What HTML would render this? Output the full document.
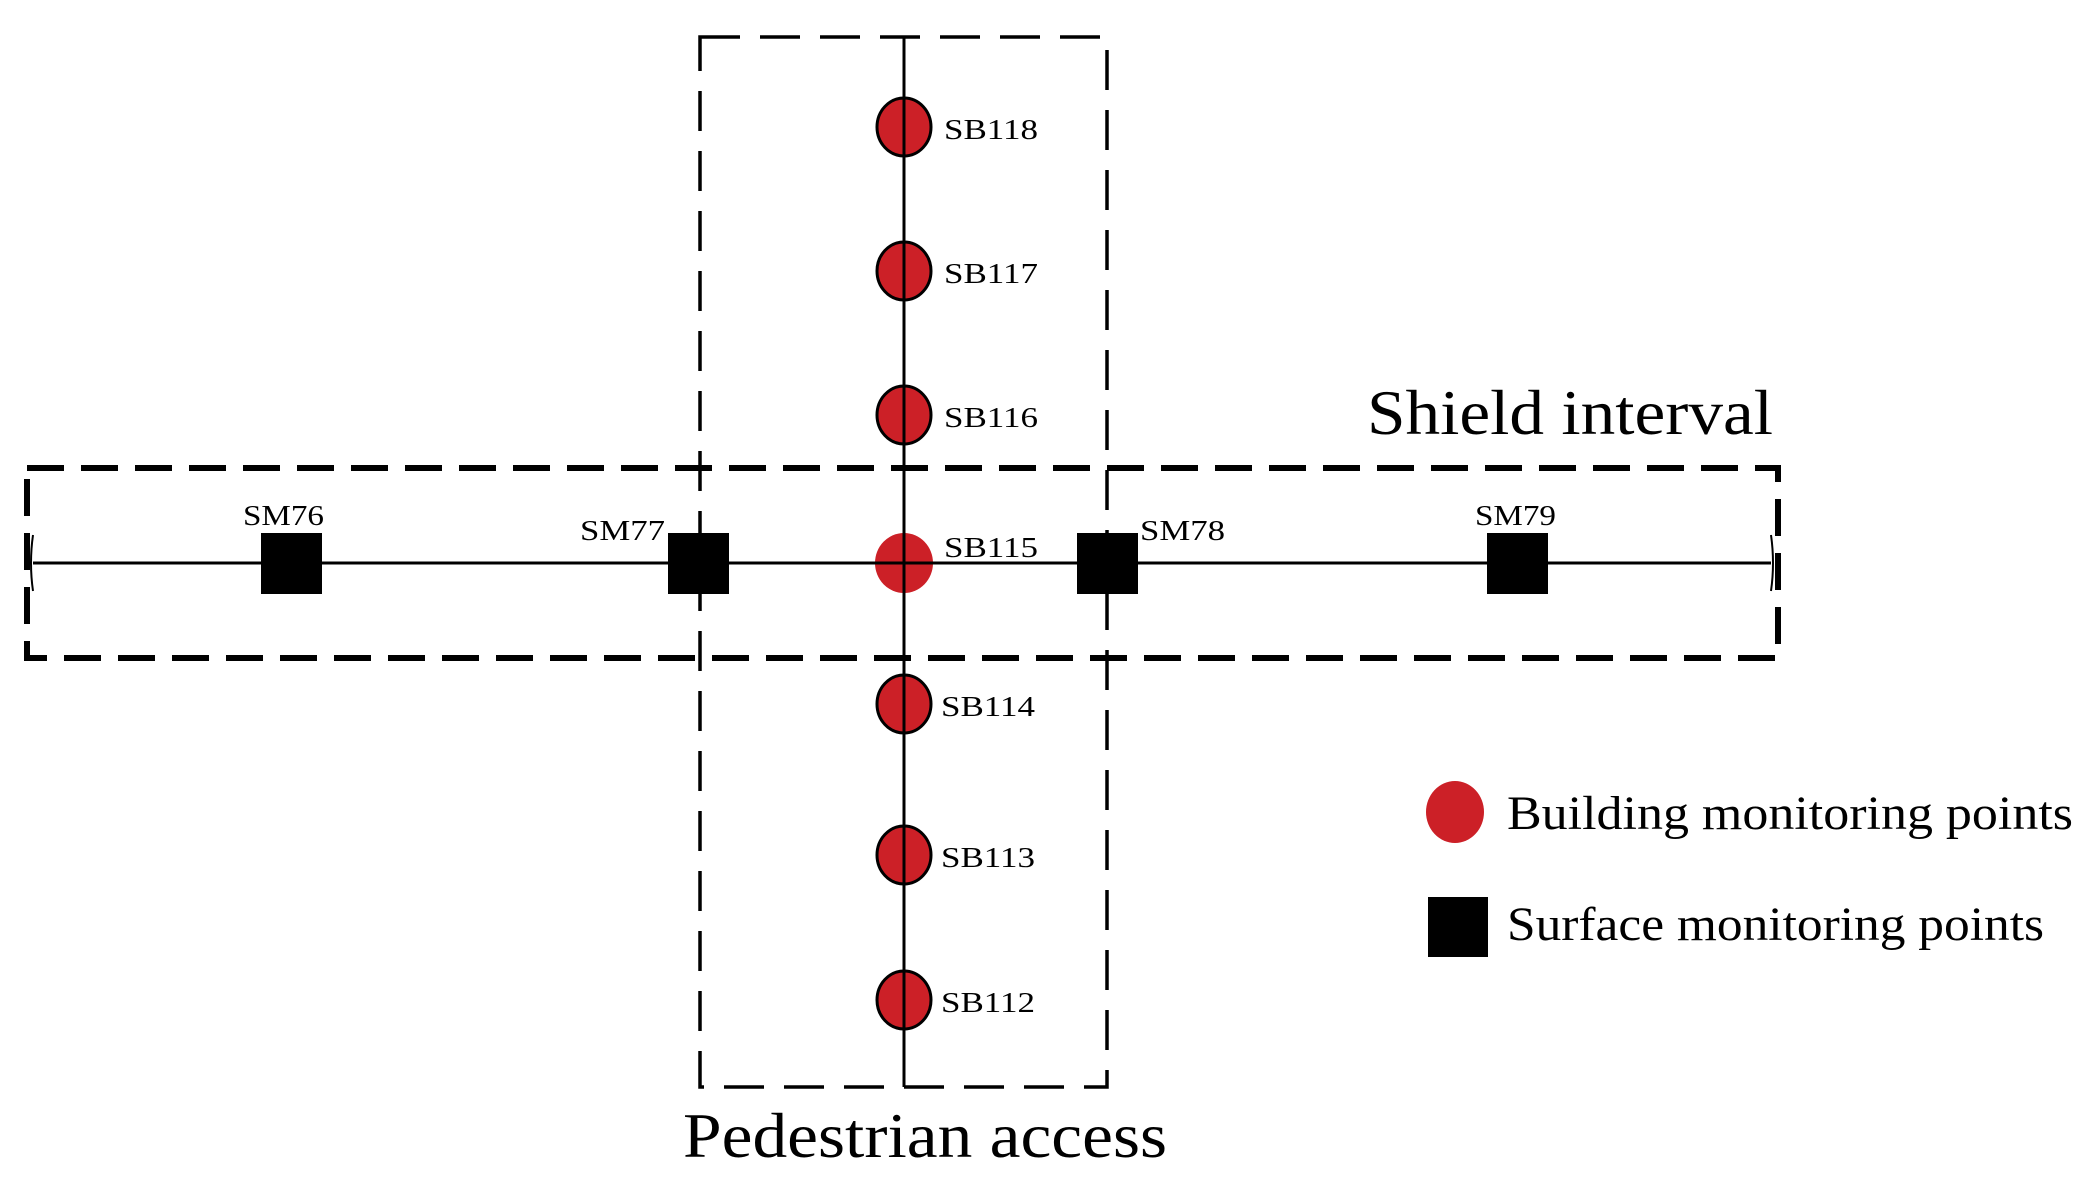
<!DOCTYPE html>
<html><head><style>html,body{margin:0;padding:0;background:#fff;}svg{display:block;}</style></head>
<body>
<svg width="2091" height="1186" viewBox="0 0 2091 1186" xmlns="http://www.w3.org/2000/svg" font-family="Liberation Serif, serif">
<!-- pedestrian rect -->
<rect x="700" y="37" width="407" height="1050" fill="none" stroke="#000" stroke-width="3.5" stroke-dasharray="40 20"/>
<!-- shield rect -->
<rect x="27" y="468" width="1751" height="190" fill="none" stroke="#000" stroke-width="6" stroke-dasharray="37 17"/>
<!-- end arcs -->
<path d="M33 535 Q29 563 33 591" fill="none" stroke="#000" stroke-width="2"/>
<path d="M1771 535 Q1775 563 1771 591" fill="none" stroke="#000" stroke-width="2"/>
<!-- lines -->
<line x1="33" y1="563" x2="1771" y2="563" stroke="#000" stroke-width="3"/>
<line x1="904" y1="37" x2="904" y2="1087" stroke="#000" stroke-width="3"/>
<!-- squares -->
<g fill="#000">
<rect x="261" y="533" width="61" height="61"/>
<rect x="668" y="533" width="61" height="61"/>
<rect x="1077" y="533" width="61" height="61"/>
<rect x="1487" y="533" width="61" height="61"/>
</g>
<!-- circles -->
<g fill="#cc2027" stroke="#000" stroke-width="3">
<ellipse cx="904" cy="127" rx="27" ry="29"/>
<ellipse cx="904" cy="271" rx="27" ry="29"/>
<ellipse cx="904" cy="415" rx="27" ry="29"/>
<ellipse cx="904" cy="704" rx="27" ry="29"/>
<ellipse cx="904" cy="855" rx="27" ry="29"/>
<ellipse cx="904" cy="1000" rx="27" ry="29"/>
</g>
<ellipse cx="904" cy="563" rx="29" ry="30" fill="#cc2027"/>
<g stroke="#000" stroke-width="3">
<line x1="904" y1="90" x2="904" y2="1087"/>
<line x1="860" y1="563" x2="950" y2="563"/>
</g>
<!-- SB labels -->
<g font-size="29" fill="#000">
<text x="944" y="139" textLength="94" lengthAdjust="spacingAndGlyphs">SB118</text>
<text x="944" y="283" textLength="94" lengthAdjust="spacingAndGlyphs">SB117</text>
<text x="944" y="427" textLength="94" lengthAdjust="spacingAndGlyphs">SB116</text>
<text x="944" y="557" textLength="94" lengthAdjust="spacingAndGlyphs">SB115</text>
<text x="941" y="716" textLength="94" lengthAdjust="spacingAndGlyphs">SB114</text>
<text x="941" y="867" textLength="94" lengthAdjust="spacingAndGlyphs">SB113</text>
<text x="941" y="1012" textLength="94" lengthAdjust="spacingAndGlyphs">SB112</text>
<text x="243" y="525" textLength="81" lengthAdjust="spacingAndGlyphs">SM76</text>
<text x="580" y="540" textLength="85" lengthAdjust="spacingAndGlyphs">SM77</text>
<text x="1140" y="540" textLength="85" lengthAdjust="spacingAndGlyphs">SM78</text>
<text x="1475" y="525" textLength="81" lengthAdjust="spacingAndGlyphs">SM79</text>
</g>
<text x="1367" y="434" font-size="64" textLength="406" lengthAdjust="spacingAndGlyphs">Shield interval</text>
<text x="683" y="1157" font-size="64" textLength="484" lengthAdjust="spacingAndGlyphs">Pedestrian access</text>
<!-- legend -->
<ellipse cx="1455" cy="812" rx="29" ry="31" fill="#cc2027"/>
<text x="1507" y="829" font-size="48" textLength="566" lengthAdjust="spacingAndGlyphs">Building monitoring points</text>
<rect x="1428" y="897" width="60" height="60" fill="#000"/>
<text x="1507" y="940" font-size="48" textLength="537" lengthAdjust="spacingAndGlyphs">Surface monitoring points</text>
</svg>
</body></html>
